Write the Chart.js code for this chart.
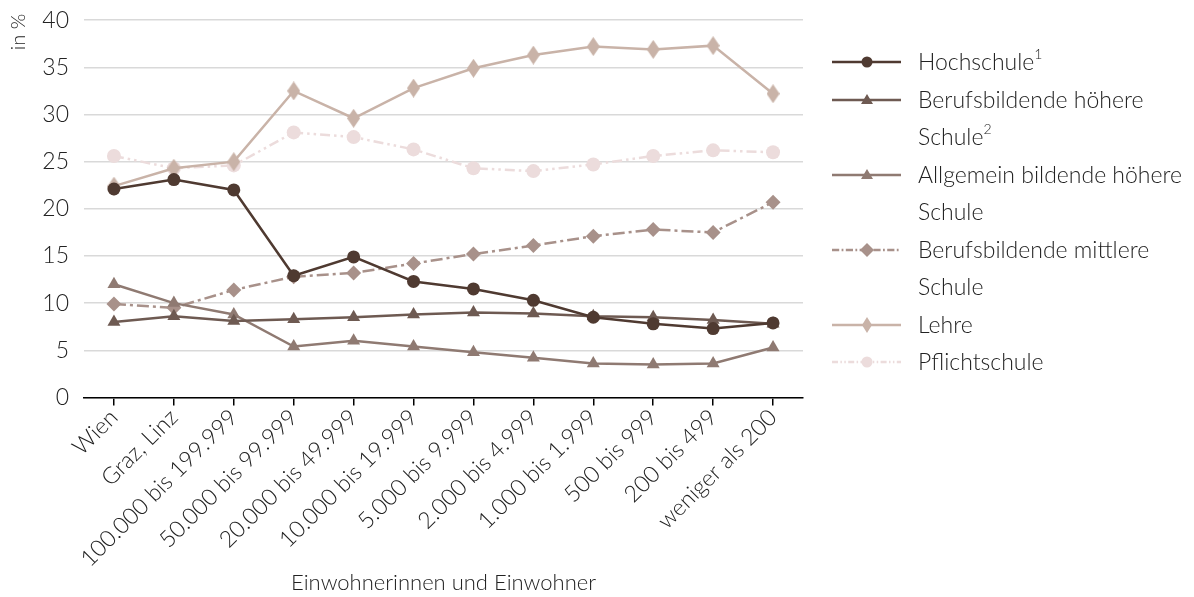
<!DOCTYPE html>
<html lang="de">
<head>
<meta charset="utf-8">
<title>Bildungsabschluss nach Gemeindegröße</title>
<script src="https://cdn.jsdelivr.net/npm/chart.js@4.4.1/dist/chart.umd.min.js"></script>
<style>
  html, body { margin: 0; padding: 0; background: #fff; }
  #wrap { position: relative; width: 1194px; height: 597px; }
  #chart { position: absolute; left: 0; top: 0; }
  #legend {
    position: absolute; left: 832px; top: 43px;
    font-family: "Lato", "Open Sans", sans-serif; font-weight: 300;
    font-size: 23px; color: #222; line-height: 37.5px;
  }
  .item { display: flex; align-items: flex-start; }
  .item svg { flex: none; margin-top: 9px; margin-right: 17px; }
  .item sup { font-size: 14px; line-height: 0; position: relative; top: -2px; }
</style>
</head>
<body>
<div id="wrap">
  <canvas id="chart" width="1194" height="597"></canvas>
  <div id="legend"></div>
</div>
<script>
// Gemeindegrößenklassen (Einwohnerinnen und Einwohner)
const categories = [
  "Wien", "Graz, Linz", "100.000 bis 199.999", "50.000 bis 99.999",
  "20.000 bis 49.999", "10.000 bis 19.999", "5.000 bis 9.999",
  "2.000 bis 4.999", "1.000 bis 1.999", "500 bis 999", "200 bis 499",
  "weniger als 200"
];

// Anteile in %
const hochschule      = [22.1, 23.1, 22.0, 12.9, 14.9, 12.3, 11.5, 10.3, 8.5, 7.8, 7.3, 7.9];
const bhs             = [8.0, 8.6, 8.1, 8.3, 8.5, 8.8, 9.0, 8.9, 8.6, 8.5, 8.2, 7.8];
const ahs             = [12.0, 10.0, 8.8, 5.4, 6.0, 5.4, 4.8, 4.2, 3.6, 3.5, 3.6, 5.3];
const bms             = [9.9, 9.5, 11.4, 12.8, 13.2, 14.2, 15.2, 16.1, 17.1, 17.8, 17.5, 20.7];
const lehre           = [22.4, 24.3, 25.0, 32.5, 29.6, 32.8, 34.9, 36.3, 37.2, 36.9, 37.3, 32.2];
const pflichtschule   = [25.6, 24.3, 24.6, 28.1, 27.6, 26.3, 24.3, 24.0, 24.7, 25.6, 26.2, 26.0];

const yTicks = [0, 5, 10, 15, 20, 25, 30, 35, 40];

const FONT = '"Lato", "Open Sans", sans-serif';

// tall narrow diamond used for the Lehre series
function tallDiamond(w, h, color) {
  const c = document.createElement('canvas');
  c.width = w; c.height = h;
  const g = c.getContext('2d');
  g.fillStyle = color;
  g.beginPath();
  g.moveTo(w / 2, 0); g.lineTo(w, h / 2); g.lineTo(w / 2, h); g.lineTo(0, h / 2);
  g.closePath(); g.fill();
  return c;
}

const C_HS = '#4f3a31', C_BHS = '#6e5a52', C_AHS = '#8f7a72',
      C_BMS = '#a8918a', C_LEHRE = '#c9b3a8', C_PS = '#ecdcdc';

const series = [
  { label: 'Hochschule', sup: '1', data: hochschule, color: C_HS, point: 'circle', radius: 6.5, dash: [] },
  { label: 'Berufsbildende höhere Schule', sup: '2', data: bhs, color: C_BHS, point: 'triangle', radius: 7.5, dash: [] },
  { label: 'Allgemein bildende höhere Schule', sup: '', data: ahs, color: C_AHS, point: 'triangle', radius: 7.5, dash: [] },
  { label: 'Berufsbildende mittlere Schule', sup: '', data: bms, color: C_BMS, point: 'rectRot', radius: 7.5, dash: [12, 4, 3, 4] },
  { label: 'Lehre', sup: '', data: lehre, color: C_LEHRE, point: tallDiamond(13, 19, C_LEHRE), radius: 9, dash: [] },
  { label: 'Pflichtschule', sup: '', data: pflichtschule, color: C_PS, point: 'circle', radius: 7, dash: [10, 4, 2.5, 4, 2.5, 4] }
];

// "in %" axis caption at the top of the value axis
const axisCaption = {
  id: 'axisCaption',
  afterDraw(chart) {
    const ctx = chart.ctx;
    ctx.save();
    ctx.translate(19, 32);
    ctx.rotate(-Math.PI / 2);
    ctx.font = '300 20px ' + FONT;
    ctx.fillStyle = '#222';
    ctx.textAlign = 'center';
    ctx.textBaseline = 'middle';
    ctx.fillText('in %', 0, 0);
    ctx.restore();
  }
};

const chart = new Chart(document.getElementById('chart'), {
  type: 'line',
  data: {
    labels: categories,
    datasets: series.map(s => ({
      label: s.label,
      data: s.data,
      borderColor: s.color,
      backgroundColor: s.color,
      borderWidth: 2.5,
      borderDash: s.dash,
      pointStyle: s.point,
      pointRadius: s.radius,
      pointHoverRadius: s.radius,
      pointBorderWidth: 0,
      tension: 0,
      fill: false
    }))
  },
  options: {
    responsive: false,
    animation: false,
    events: [],
    layout: { padding: { left: 0, right: 391, top: 0, bottom: 0 } },
    plugins: { legend: { display: false }, tooltip: { enabled: false } },
    scales: {
      x: {
        offset: true,
        grid: { drawOnChartArea: false, drawTicks: true, tickLength: 8, color: '#000', lineWidth: 1.5 },
        border: { color: '#000', width: 1.5 },
        ticks: {
          color: '#222', font: { family: FONT, size: 23, weight: 300, lineHeight: 1.0 },
          maxRotation: 45, minRotation: 45, autoSkip: false, padding: 0
        },
        title: {
          display: true, text: 'Einwohnerinnen und Einwohner',
          color: '#222', font: { family: FONT, size: 22, weight: 300, lineHeight: 1.1 }, padding: { top: 0, bottom: 2 }
        }
      },
      y: {
        min: 0, max: 40,
        afterBuildTicks(scale) { scale.ticks = yTicks.map(v => ({ value: v })); },
        afterFit(scale) { scale.width = 84; },
        grid: { color: '#d9d9d9', lineWidth: 1.5, drawTicks: false },
        border: { display: false },
        ticks: {
          color: '#222', font: { family: FONT, size: 23, weight: 300, lineHeight: 0.45 }, padding: 15
        }
      }
    }
  },
  plugins: [axisCaption]
});

// legend with line + marker symbols
const legendEl = document.getElementById('legend');
series.forEach(s => {
  const item = document.createElement('div');
  item.className = 'item';
  const svgNS = 'http://www.w3.org/2000/svg';
  const svg = document.createElementNS(svgNS, 'svg');
  svg.setAttribute('width', '69'); svg.setAttribute('height', '20');
  const line = document.createElementNS(svgNS, 'line');
  line.setAttribute('x1', '0'); line.setAttribute('x2', '69');
  line.setAttribute('y1', '10'); line.setAttribute('y2', '10');
  line.setAttribute('stroke', s.color); line.setAttribute('stroke-width', '2.5');
  if (s.dash.length) line.setAttribute('stroke-dasharray', s.dash.map(d => d * 0.6).join(' '));
  svg.appendChild(line);
  let mk;
  if (s.point === 'circle') {
    mk = document.createElementNS(svgNS, 'circle');
    mk.setAttribute('cx', '35'); mk.setAttribute('cy', '10'); mk.setAttribute('r', '5.5');
  } else if (s.point === 'triangle') {
    mk = document.createElementNS(svgNS, 'polygon');
    mk.setAttribute('points', '35,4 41,14 29,14');
  } else if (s.point === 'rectRot') {
    mk = document.createElementNS(svgNS, 'polygon');
    mk.setAttribute('points', '35,3 42,10 35,17 28,10');
  } else {
    mk = document.createElementNS(svgNS, 'polygon');
    mk.setAttribute('points', '35,2 40,10 35,18 30,10');
  }
  mk.setAttribute('fill', s.color);
  svg.appendChild(mk);
  const text = document.createElement('div');
  text.style.width = '275px';
  text.textContent = s.label;
  if (s.sup) {
    const sup = document.createElement('sup');
    sup.textContent = s.sup;
    text.appendChild(sup);
  }
  item.appendChild(svg);
  item.appendChild(text);
  legendEl.appendChild(item);
});
</script>
</body>
</html>
